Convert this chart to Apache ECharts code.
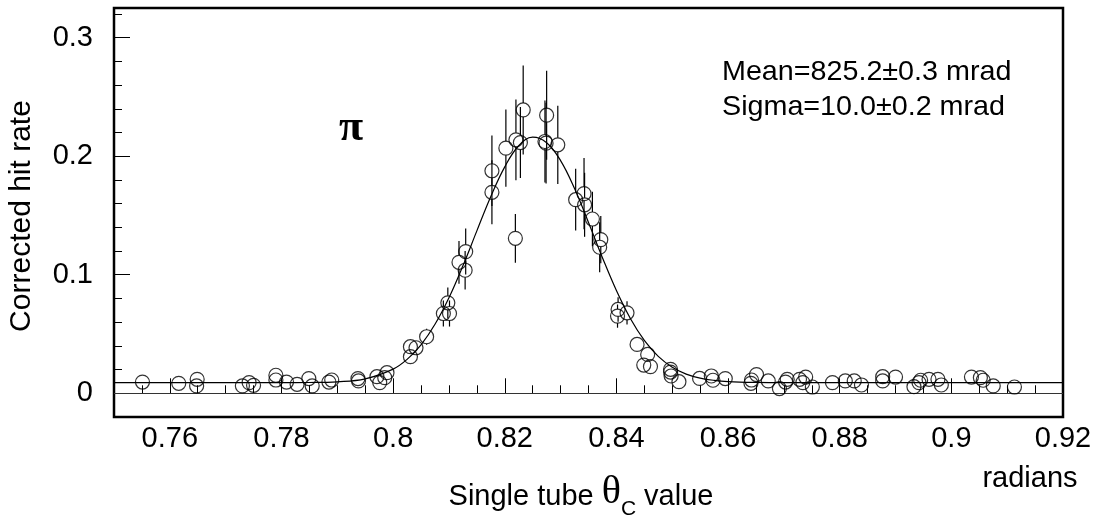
<!DOCTYPE html>
<html>
<head>
<meta charset="utf-8">
<style>
html,body{margin:0;padding:0;background:#fff;}
#chart{width:1106px;height:518px;}
</style>
<script src="https://cdn.jsdelivr.net/npm/echarts@6/dist/echarts.min.js"></script>
</head>
<body>
<div id="chart"></div>
<script>
// ---- data ----
const thetaX = [
  0.7551,0.7616,0.7649,0.7648,0.7730,0.7742,0.7750,0.7790,0.7790,0.7809,0.7828,0.7849,0.7855,0.7885,0.7890,
  0.7937,0.7938,0.7971,0.7976,0.7989,0.7985,
  0.8031,0.8041,0.8031,0.8060,0.8098,0.8090,0.8101,0.8118,0.8130,0.8129,0.8177,0.8177,
  0.8202,0.8220,0.8228,0.8233,0.8219,0.8275,0.8272,0.8274,0.8295,0.8327,0.8342,0.8343,0.8357,0.8372,0.8370,
  0.8403,0.8402,0.8419,0.8437,0.8456,0.8449,0.8461,0.8497,0.8497,0.8498,0.8512,
  0.8549,0.8570,0.8573,0.8595,0.8642,0.8641,0.8651,0.8672,0.8692,0.8703,0.8706,0.8728,0.8739,0.8734,0.8751,
  0.8787,0.8810,0.8826,0.8839,0.8877,0.8877,0.8900,0.8933,0.8942,0.8945,0.8960,0.8976,0.8982,
  0.9036,0.9052,0.9057,0.9075,0.9113
];
const hitRate = [
  0.0095,0.0084,0.0118,0.0062,0.0062,0.0090,0.0067,0.0152,0.0112,0.0095,0.0076,0.0124,0.0062,0.0095,0.0112,
  0.0124,0.0104,0.0140,0.0090,0.0174,0.0132,
  0.0393,0.0384,0.0309,0.0477,0.0763,0.0673,0.0673,0.1105,0.1195,0.1038,0.1877,0.1695,
  0.2068,0.2138,0.2115,0.2390,0.1307,0.2346,0.2124,0.2110,0.2096,0.1633,0.1684,0.1590,0.1470,0.1296,0.1232,
  0.0707,0.0651,0.0679,0.0412,0.0328,0.0238,0.0225,0.0202,0.0179,0.0146,0.0098,
  0.0125,0.0146,0.0110,0.0124,0.0112,0.0084,0.0158,0.0104,0.0040,0.0095,0.0118,0.0118,0.0137,0.0090,0.0053,
  0.0090,0.0104,0.0104,0.0070,0.0140,0.0104,0.0137,0.0056,0.0090,0.0110,0.0118,0.0118,0.0070,
  0.0137,0.0132,0.0110,0.0062,0.0053
];
const hitErr = [
  0.002,0.002,0.002,0.001,0.001,0.002,0.001,0.003,0.002,0.002,0.001,0.002,0.001,0.002,0.002,
  0.002,0.002,0.002,0.002,0.003,0.002,
  0.006,0.006,0.005,0.0068,0.0129,0.011,0.011,0.018,0.0194,0.0163,0.0297,0.027,
  0.0326,0.034,0.030,0.0376,0.0206,0.0375,0.0345,0.034,0.033,0.026,0.030,0.027,0.023,0.020,0.021,
  0.0104,0.0098,0.0098,0.006,0.005,0.004,0.004,0.003,0.003,0.002,0.002,
  0.002,0.002,0.002,0.002,0.002,0.002,0.002,0.002,0.001,0.002,0.002,0.002,0.002,0.002,0.001,
  0.002,0.002,0.002,0.001,0.002,0.002,0.002,0.001,0.002,0.002,0.002,0.002,0.001,
  0.002,0.002,0.002,0.001,0.001
];
// fitted curve
const fitX = [0.75,0.77,0.78,0.785,0.79,0.795,0.80,0.8025,0.805,0.8075,0.81,0.8125,0.815,0.8175,0.82,0.8225,
  0.825,0.8275,0.83,0.8325,0.835,0.8375,0.84,0.8425,0.845,0.8475,0.85,0.8525,0.855,0.8575,0.86,0.865,0.87,0.88,0.90,0.92];
const fitY = [0.0090,0.0090,0.0090,0.0091,0.0097,0.0122,0.0204,0.0286,0.0409,0.0582,0.0806,0.1075,0.1370,0.1660,0.1910,0.2088,
  0.2160,0.2114,0.1963,0.1727,0.1441,0.1144,0.0867,0.0631,0.0446,0.0311,0.0220,0.0162,0.0128,0.0109,0.0099,0.0092,0.0090,0.0090,0.0090,0.0090];
// axis ticks and labels
const xMajorTicks = [0.76,0.78,0.80,0.82,0.84,0.86,0.88,0.90,0.92];
const xTickLabels = ['0.76','0.78','0.8','0.82','0.84','0.86','0.88','0.9','0.92'];
const xMinorTicks = [0.755,0.765,0.77,0.775,0.785,0.79,0.795,0.805,0.81,0.815,0.825,0.83,0.835,0.845,0.85,0.855,
  0.865,0.87,0.875,0.885,0.89,0.895,0.905,0.91,0.915];
const yMajorTicks = [0,0.1,0.2,0.3];
const yTickLabels = ['0','0.1','0.2','0.3'];
const yMinorTicks = [0.02,0.04,0.06,0.08,0.12,0.14,0.16,0.18,0.22,0.24,0.26,0.28,0.32];

// ---- chart ----
const SANS = "'Liberation Sans', Arial, Helvetica, sans-serif";
const SERIF = "'Liberation Serif', 'Times New Roman', serif";
const points = thetaX.map((x, i) => [x, hitRate[i], hitErr[i]]);
const fitData = fitX.map((x, i) => [x, fitY[i]]);
const R = 7;

function lookup(ticks, labels, v) {
  for (let i = 0; i < ticks.length; i++) if (Math.abs(ticks[i] - v) < 1e-9) return labels[i];
  return '';
}

const ctx = document.createElement('canvas').getContext('2d');
function tw(font, s) { ctx.font = font; return ctx.measureText(s).width; }

// x-axis title built from pieces
const tParts = [
  {s: 'Single tube ', size: 29, fam: SANS, base: 506.7},
  {s: '\u03B8', size: 40, fam: SERIF, base: 506.7},
  {s: 'C', size: 21, fam: SANS, base: 516.5},
  {s: ' value', size: 29, fam: SANS, base: 506.7}
];
let total = 0;
tParts.forEach(p => { p.w = tw(p.size + 'px ' + p.fam, p.s); total += p.w; });
let cx = 581 - total / 2;
const titleEls = tParts.map(p => {
  const el = {type: 'text', x: cx, y: p.base - 0.3465 * p.size,
    style: {text: p.s, font: p.size + 'px ' + p.fam, fill: '#000', align: 'left', verticalAlign: 'middle'}};
  cx += p.w;
  return el;
});

const chart = echarts.init(document.getElementById('chart'), null, {renderer: 'canvas'});
chart.setOption({
  animation: false,
  backgroundColor: '#fff',
  grid: {left: 114, right: 43, top: 8, bottom: 101, show: true, borderColor: '#000', borderWidth: 2.5, backgroundColor: 'transparent'},
  xAxis: [
    {type: 'value', min: 0.75, max: 0.92, position: 'bottom',
      axisLine: {show: false}, splitLine: {show: false},
      axisTick: {show: true, inside: true, length: 15, customValues: xMajorTicks, lineStyle: {color: '#000', width: 1}},
      axisLabel: {show: true, customValues: xMajorTicks, showMinLabel: true, showMaxLabel: true,
        formatter: v => lookup(xMajorTicks, xTickLabels, v),
        fontSize: 29, fontFamily: SANS, color: '#000', margin: 7}},
    {type: 'value', min: 0.75, max: 0.92, position: 'bottom',
      axisLine: {show: false}, splitLine: {show: false},
      axisTick: {show: true, inside: true, length: 8, customValues: xMinorTicks, lineStyle: {color: '#000', width: 1}},
      axisLabel: {show: false}}
  ],
  yAxis: [
    {type: 'value', min: -0.02, max: 0.325, position: 'left',
      axisLine: {show: false}, splitLine: {show: false},
      axisTick: {show: true, inside: true, length: 16, customValues: yMajorTicks, lineStyle: {color: '#000', width: 1}},
      axisLabel: {show: true, customValues: yMajorTicks, showMinLabel: true, showMaxLabel: true,
        formatter: v => lookup(yMajorTicks, yTickLabels, v),
        fontSize: 29, fontFamily: SANS, color: '#000', margin: 21}},
    {type: 'value', min: -0.02, max: 0.325, position: 'left',
      axisLine: {show: false}, splitLine: {show: false},
      axisTick: {show: true, inside: true, length: 8, customValues: yMinorTicks, lineStyle: {color: '#000', width: 1}},
      axisLabel: {show: false}}
  ],
  series: [
    {type: 'line', name: 'fit', data: fitData, xAxisIndex: 0, yAxisIndex: 0, smooth: 0.4,
      showSymbol: false, symbol: 'none', lineStyle: {color: '#000', width: 1.2}, z: 3,
      markLine: {silent: true, symbol: 'none', label: {show: false},
        lineStyle: {color: '#333', width: 1, type: 'solid'}, data: [{yAxis: 0}]}},
    {type: 'custom', name: 'errors', data: points, xAxisIndex: 0, yAxisIndex: 0, z: 4,
      renderItem: function (params, api) {
        const x = api.value(0), y = api.value(1), e = api.value(2);
        const c = api.coord([x, y]);
        const top = api.coord([x, y + e]);
        const bot = api.coord([x, y - e]);
        const ch = [];
        if (c[1] - top[1] > R) ch.push({type: 'line', shape: {x1: c[0], y1: top[1], x2: c[0], y2: c[1] - R}, style: {stroke: '#000', lineWidth: 1.2}});
        if (bot[1] - c[1] > R) ch.push({type: 'line', shape: {x1: c[0], y1: c[1] + R, x2: c[0], y2: bot[1]}, style: {stroke: '#000', lineWidth: 1.2}});
        return {type: 'group', children: ch};
      }},
    {type: 'scatter', name: 'data', data: points.map(p => [p[0], p[1]]), xAxisIndex: 0, yAxisIndex: 0, z: 5,
      symbol: 'circle', symbolSize: 14,
      itemStyle: {color: 'rgba(0,0,0,0)', borderColor: '#000', borderWidth: 1.2}}
  ],
  graphic: [
    {type: 'text', x: 22, y: 216, rotation: Math.PI / 2,
      style: {text: 'Corrected hit rate', font: '30px ' + SANS, fill: '#000', align: 'center', verticalAlign: 'middle'}},
    {type: 'text', x: 1030, y: 479,
      style: {text: 'radians', font: '29px ' + SANS, fill: '#000', align: 'center', verticalAlign: 'middle'}},
    {type: 'text', x: 722, y: 72, scaleX: 1.025,
      style: {text: 'Mean=825.2\u00B10.3 mrad', font: '28px ' + SANS, fill: '#000', align: 'left', verticalAlign: 'middle'}},
    {type: 'text', x: 722, y: 107, scaleX: 1.025,
      style: {text: 'Sigma=10.0\u00B10.2 mrad', font: '28px ' + SANS, fill: '#000', align: 'left', verticalAlign: 'middle'}},
    {type: 'text', x: 351, y: 129,
      style: {text: '\u03C0', font: 'bold 44px ' + SERIF, fill: '#000', align: 'center', verticalAlign: 'middle'}}
  ].concat(titleEls)
});
</script>
</body>
</html>
